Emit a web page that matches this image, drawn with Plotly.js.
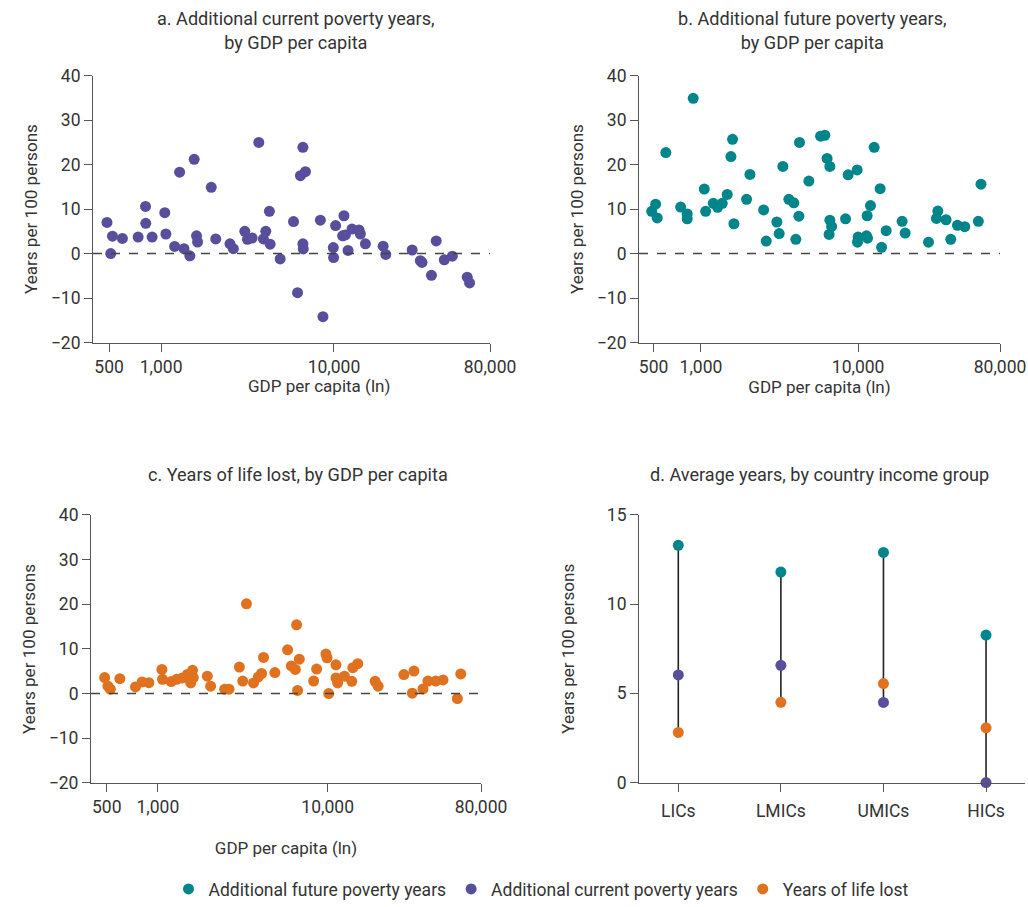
<!DOCTYPE html>
<html>
<head>
<meta charset="utf-8">
<script src="https://cdn.plot.ly/plotly-3.0.1.min.js"></script>
<style>html,body{margin:0;padding:0;background:#fff;}#chart{width:1028px;height:907px;}</style>
</head>
<body>
<div id="chart"></div>
<script>
// ---- Panel a: additional current poverty years vs GDP per capita
const gdpA = [486,523,511,597,736,812,815,887,1050,1065,1197,1279,1356,1466,1553,1603,1625,1950,2070,2502,2617,3048,3157,3360,3673,3906,4032,4230,4272,4884,5834,6155,6610,6397,6840,6610,6640,8340,8635,9910,9950,10220,11420,11220,11640,12060,12710,13960,14210,15200,19250,19940,28340,31600,32300,36640,39050,43470,48390,59020,60900];
const curA = [7.0,3.9,0.0,3.4,3.7,10.6,6.8,3.7,9.2,4.4,1.6,18.3,1.1,-0.5,21.2,4.0,2.6,14.9,3.3,2.2,1.1,5.0,3.2,3.5,25.0,3.3,5.0,9.5,2.1,-1.2,7.2,-8.8,23.9,17.5,18.4,2.2,1.05,7.5,-14.2,1.35,-0.9,6.3,8.5,4.0,4.2,0.7,5.5,5.3,4.4,2.2,1.65,-0.2,0.8,-1.6,-2.0,-4.9,2.85,-1.4,-0.6,-5.3,-6.6];

// ---- Panel b: additional future poverty years vs GDP per capita
const gdpB = [486,515,527,598,743,818,818,893,1050,1071,1198,1277,1367,1470,1552,1589,1621,1952,2050,2505,2603,3041,3147,3321,3625,3899,4016,4198,4237,4859,5769,6140,6350,6610,6610,6780,6540,8320,8640,9860,10000,9910,11300,11470,11410,11990,12650,13810,14100,15080,19060,19920,28050,32150,31500,36280,38850,42860,47680,58200,60500];
const futB = [9.5,11.1,8.0,22.7,10.45,8.9,7.8,34.9,14.5,9.5,11.3,10.4,11.3,13.3,21.8,25.7,6.7,12.2,17.8,9.8,2.8,7.1,4.5,19.6,12.2,11.4,3.2,8.4,25.0,16.3,26.4,26.6,21.4,19.6,7.5,6.1,4.3,7.8,17.7,18.8,3.7,2.55,4.0,3.45,8.5,10.8,23.9,14.6,1.4,5.15,7.25,4.6,2.55,9.55,7.9,7.6,3.2,6.35,6.05,7.25,15.6];

// ---- Panel c: years of life lost vs GDP per capita
const gdpC = [486,508,525,597,738,808,885,1056,1065,1199,1289,1392,1491,1600,1617,1560,1955,2045,2473,2624,3020,3160,3324,3656,3899,4078,4190,4887,5806,6107,6447,6807,6560,6650,8267,8610,9770,9910,10140,11190,11190,11450,12550,13870,14060,15040,19030,19820,28100,32210,31500,36400,38950,43270,47770,58050,60800];
const yllC = [3.6,1.65,1.0,3.35,1.5,2.6,2.45,5.4,3.2,2.7,3.2,3.5,4.3,5.2,3.6,2.4,3.9,1.65,1.0,1.0,5.95,2.8,20.1,2.4,3.7,4.5,8.1,4.7,9.8,6.2,5.4,7.7,15.4,0.7,2.8,5.5,8.85,8.0,0.0,6.45,3.5,2.4,3.9,2.75,5.8,6.7,2.75,1.65,4.25,5.05,0.1,1.05,2.8,2.8,3.05,-1.1,4.4];

// ---- Panel d: averages by income group
const groups = ["LICs","LMICs","UMICs","HICs"];
const avgFuture = [13.3,11.8,12.9,8.27];
const avgCurrent = [6.03,6.57,4.49,0.0];
const avgYll = [2.81,4.5,5.55,3.07];

// ---- Tick labels
const gdpTickVals = [500,1000,10000,80000];
const gdpTickText = ["500","1,000","10,000","80,000"];

const TEAL = "#00858a", PURPLE = "#574f9b", ORANGE = "#e0711f";

// choose a condensed family if installed, and size text to the reference widths
const cv = document.createElement("canvas").getContext("2d");
function w(text, size, fam){ cv.font = size + "px " + fam; return cv.measureText(text).width; }
const hasNarrow = Math.abs(w("abcdefghijklmnop", 50, "'Liberation Sans Narrow', monospace") - w("abcdefghijklmnop", 50, "monospace")) > 1;
const FONT = hasNarrow ? "'Liberation Sans Narrow', Roboto, sans-serif" : "Roboto, sans-serif";
function fit(text, target){ return Math.round(target / w(text, 100, FONT) * 1000) / 10; }
const S_TITLE = fit("a. Additional current poverty years,", 277);
const S_YT = fit("Years per 100 persons", 170);
const S_XT = fit("GDP per capita (ln)", 142);
const S_TICK = fit("\u221220", 29.7);
const S_LEG = fit("Additional future poverty years", 238);

const MS = 11;

// vertical connector segments for panel d built from the data arrays
const segX = [], segY = [];
groups.forEach((g,i)=>{
  const vals=[avgFuture[i],avgCurrent[i],avgYll[i]];
  segX.push(g,g,null);
  segY.push(Math.min(...vals),Math.max(...vals),null);
});

const traces = [
  {x:gdpA,y:curA,xaxis:"x",yaxis:"y",mode:"markers",type:"scatter",showlegend:false,marker:{color:PURPLE,size:MS}},
  {x:gdpB,y:futB,xaxis:"x2",yaxis:"y2",mode:"markers",type:"scatter",showlegend:false,marker:{color:TEAL,size:MS}},
  {x:gdpC,y:yllC,xaxis:"x3",yaxis:"y3",mode:"markers",type:"scatter",showlegend:false,marker:{color:ORANGE,size:MS}},
  {x:segX,y:segY,xaxis:"x4",yaxis:"y4",mode:"lines",type:"scatter",showlegend:false,line:{color:"#222",width:1.6},cliponaxis:false},
  {x:groups,y:avgFuture,xaxis:"x4",yaxis:"y4",mode:"markers",type:"scatter",name:"Additional future poverty years",marker:{color:TEAL,size:MS},cliponaxis:false},
  {x:groups,y:avgCurrent,xaxis:"x4",yaxis:"y4",mode:"markers",type:"scatter",name:"Additional current poverty years",marker:{color:PURPLE,size:MS},cliponaxis:false},
  {x:groups,y:avgYll,xaxis:"x4",yaxis:"y4",mode:"markers",type:"scatter",name:"Years of life lost",marker:{color:ORANGE,size:MS},cliponaxis:false}
];

const TXT = "#333";
const AX = {showline:true,linecolor:"#555",linewidth:1,ticks:"outside",ticklen:8,tickcolor:"#555",showgrid:false,zeroline:false,
  tickfont:{size:S_TICK,color:TXT,family:FONT}};
const YTF = {size:S_YT,color:TXT,family:FONT};
const XTF = {size:S_XT,color:TXT,family:FONT};

function gdpX(domain, anchor, title, standoff){
  const ax = Object.assign({},AX,{type:"log",range:[2.606,4.903],domain:domain,anchor:anchor,
    tickmode:"array",tickvals:gdpTickVals,ticktext:gdpTickText});
  if (title) ax.title = {text:"GDP per capita (ln)",font:XTF,standoff:standoff};
  return ax;
}
function valY(domain, anchor, standoff){
  return Object.assign({},AX,{range:[-20,40],dtick:10,tick0:0,domain:domain,anchor:anchor,
    title:{text:"Years per 100 persons",font:YTF,standoff:standoff}});
}

const topDom=[0.6207,0.9162], botDom=[0.1330,0.4297];
const TF = {size:S_TITLE,color:TXT,family:FONT};
const layout = {
  width:1028,height:907,margin:{l:0,r:0,t:0,b:0},paper_bgcolor:"#fff",plot_bgcolor:"#fff",
  font:{family:FONT,color:TXT,size:S_TICK},
  xaxis:gdpX([0.0905,0.4767],"y",false), yaxis:valY(topDom,"x",8),
  xaxis2:gdpX([0.6216,0.9728],"y2",true,2), yaxis2:valY(topDom,"x2",8),
  xaxis3:gdpX([0.0885,0.4679],"y3",true,26), yaxis3:valY(botDom,"x3",8),
  xaxis4:Object.assign({},AX,{type:"category",range:[-0.383,3.38],domain:[0.6216,0.9971],anchor:"y4",ticklabelstandoff:4}),
  yaxis4:Object.assign({},AX,{range:[0,15],dtick:5,domain:[0.1334,0.4297],anchor:"x4",
    title:{text:"Years per 100 persons",font:YTF,standoff:27}}),
  shapes:[["x","y"],["x2","y2"],["x3","y3"]].map(([xa,ya])=>({type:"line",xref:xa+" domain",yref:ya,x0:0,x1:1,y0:0,y1:0,
    line:{color:"#444",width:1.5,dash:"dash"}})),
  annotations:[
    {text:"a. Additional current poverty years,<br>by GDP per capita",x:296/1028,y:1-30.5/907,xref:"paper",yref:"paper",xanchor:"center",yanchor:"middle",showarrow:false,font:TF},
    {text:"b. Additional future poverty years,<br>by GDP per capita",x:812/1028,y:1-30.5/907,xref:"paper",yref:"paper",xanchor:"center",yanchor:"middle",showarrow:false,font:TF},
    {text:"c. Years of life lost, by GDP per capita",x:298/1028,y:1-477/907,xref:"paper",yref:"paper",xanchor:"center",yanchor:"middle",showarrow:false,font:TF},
    {text:"d. Average years, by country income group",x:819/1028,y:1-477/907,xref:"paper",yref:"paper",xanchor:"center",yanchor:"middle",showarrow:false,font:TF},
    {text:"GDP per capita (ln)",x:319/1028,y:1-388/907,xref:"paper",yref:"paper",xanchor:"center",yanchor:"middle",showarrow:false,font:XTF}
  ],
  legend:{orientation:"h",x:541/1028,xanchor:"center",y:1-893/907,yanchor:"middle",font:{size:S_LEG,color:TXT,family:FONT},bgcolor:"rgba(0,0,0,0)"}
};

Plotly.newPlot("chart",traces,layout,{displayModeBar:false,staticPlot:true});
</script>
</body>
</html>
